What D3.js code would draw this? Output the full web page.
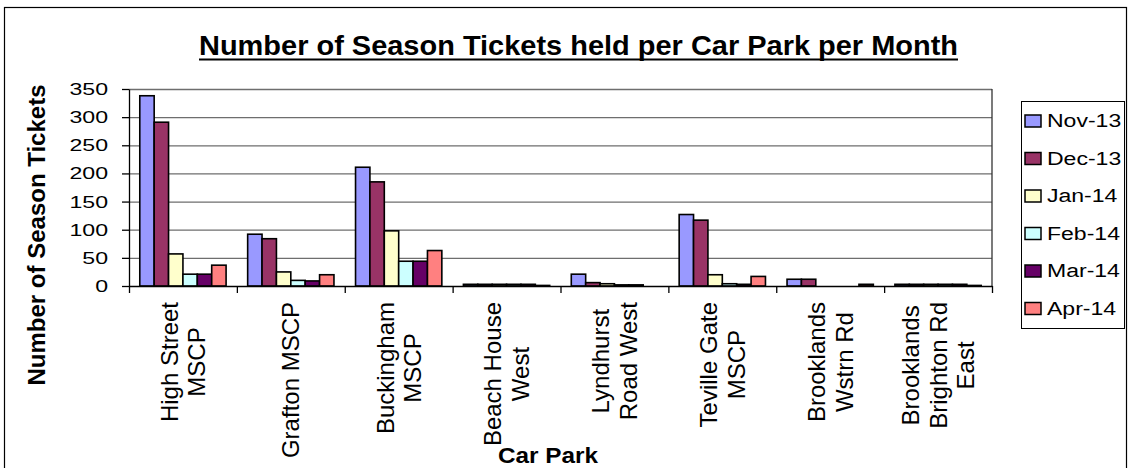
<!DOCTYPE html>
<html>
<head>
<meta charset="utf-8">
<script src="https://cdn.jsdelivr.net/npm/d3@7"></script>
<style>
  body { margin: 0; background: #fff; }
  text { font-family: "Liberation Sans", Arial, sans-serif; }
</style>
</head>
<body>
<div id="chart"></div>
<script>
// car parks, one array of label lines each
var carParks = [
  ["High Street", "MSCP"],
  ["Grafton MSCP"],
  ["Buckingham", "MSCP"],
  ["Beach House", "West"],
  ["Lyndhurst", "Road West"],
  ["Teville Gate", "MSCP"],
  ["Brooklands", "Wstrn Rd"],
  ["Brooklands", "Brighton Rd", "East"]
];
var months = ["Nov-13", "Dec-13", "Jan-14", "Feb-14", "Mar-14", "Apr-14"];
var colors = ["#9999FF", "#993366", "#FFFFCC", "#CCFFFF", "#660066", "#FF8080"];

// tickets per car park, one array per month
var nov13 = [338, 92, 211, 3, 21, 127, 12, 3];
var dec13 = [291, 84, 185, 3, 6, 117, 12, 3];
var jan14 = [57, 25, 98, 3, 4, 20, 0, 3];
var feb14 = [21, 10, 44, 3, 2, 4, 0, 3];
var mar14 = [21, 9, 44, 3, 2, 3, 0, 3];
var apr14 = [37, 20, 63, 1, 0, 17, 3, 1];
var seriesValues = [nov13, dec13, jan14, feb14, mar14, apr14];

var yTicks = [0, 50, 100, 150, 200, 250, 300, 350];

var W = 1130, H = 468;
var plot = {left: 129, right: 992, top: 89, bottom: 286};

var svg = d3.select("#chart").append("svg")
    .attr("width", W).attr("height", H);

// outer frame
svg.append("rect")
    .attr("x", 4.5).attr("y", 7.5)
    .attr("width", 1122).attr("height", 470)
    .attr("fill", "#fff").attr("stroke", "#000").attr("stroke-width", 1.2);

var catIdx = d3.range(carParks.length);
var x0 = d3.scaleBand().domain(catIdx).range([plot.left, plot.right]);
var bw = x0.bandwidth();
var gap = bw * 1.5 / 7.5;
var x1 = d3.scaleBand().domain(months).range([gap / 2, bw - gap / 2]);
var y = d3.scaleLinear().domain([0, 350]).range([plot.bottom, plot.top]);

// gridlines
var grid = svg.append("g")
    .attr("transform", "translate(" + plot.left + ",0)")
    .call(d3.axisLeft(y).tickValues(yTicks.slice(1)).tickSize(-(plot.right - plot.left)).tickFormat(""));
grid.select(".domain").remove();
grid.selectAll("line").attr("stroke", "#6e6e6e").attr("stroke-width", 1.3);

// right border of plot area
svg.append("line")
    .attr("x1", plot.right).attr("x2", plot.right)
    .attr("y1", plot.top).attr("y2", plot.bottom)
    .attr("stroke", "#333").attr("stroke-width", 1.3);

// bars
var groups = svg.selectAll("g.cat")
    .data(catIdx)
    .enter().append("g")
    .attr("class", "cat")
    .attr("transform", function (i) { return "translate(" + x0(i) + ",0)"; });

groups.selectAll("rect")
    .data(function (i) {
        return months.map(function (m, k) { return {m: m, k: k, v: seriesValues[k][i]}; });
    })
    .enter().append("rect")
    .filter(function (d) { return d.v > 0; })
    .attr("x", function (d) { return x1(d.m); })
    .attr("y", function (d) { return y(d.v); })
    .attr("width", x1.bandwidth())
    .attr("height", function (d) { return y(0) - y(d.v); })
    .attr("fill", function (d) { return colors[d.k]; })
    .attr("stroke", "#000")
    .attr("stroke-width", 1.6);

// y axis
var yAxis = svg.append("g")
    .attr("transform", "translate(" + plot.left + ",0)")
    .call(d3.axisLeft(y).tickValues(yTicks).tickSize(7).tickSizeOuter(0));
yAxis.select(".domain").attr("stroke", "#000").attr("stroke-width", 1.3);
yAxis.selectAll("line").attr("stroke", "#000").attr("stroke-width", 1.3);
yAxis.selectAll("text")
    .attr("font-size", 17)
    .attr("fill", "#000")
    .attr("x", -21 / 1.36)
    .attr("transform", "scale(1.36,1)");

// x axis, ticks between car parks
var xi = d3.scaleLinear().domain([0, carParks.length]).range([plot.left, plot.right]);
var xAxis = svg.append("g")
    .attr("transform", "translate(0," + plot.bottom + ")")
    .call(d3.axisBottom(xi).ticks(carParks.length).tickSize(7).tickSizeOuter(0).tickFormat(""));
xAxis.select(".domain").attr("stroke", "#000").attr("stroke-width", 1.3);
xAxis.selectAll("line").attr("stroke", "#000").attr("stroke-width", 1.3);

// rotated car park labels
var labelTop = 302, lineGap = 27.5, fs = 24;
carParks.forEach(function (lines, i) {
    var c = x0(i) + bw / 2;
    var g = svg.append("g");
    var texts = lines.map(function (t, j) {
        var off = (j - (lines.length - 1) / 2) * lineGap + fs * 0.36;
        return g.append("text")
            .attr("font-size", fs)
            .attr("text-anchor", "middle")
            .attr("transform", "translate(" + (c + off) + ",0) rotate(-90)")
            .text(t);
    });
    var maxLen = d3.max(texts, function (t) { return t.node().getComputedTextLength(); });
    texts.forEach(function (t) { t.attr("x", -(labelTop + maxLen / 2)); });
});

// title
svg.append("text")
    .attr("x", 199).attr("y", 55)
    .attr("font-size", 27).attr("font-weight", "bold")
    .attr("textLength", 759).attr("lengthAdjust", "spacingAndGlyphs")
    .text("Number of Season Tickets held per Car Park per Month");
svg.append("line")
    .attr("x1", 199).attr("x2", 958).attr("y1", 59.5).attr("y2", 59.5)
    .attr("stroke", "#000").attr("stroke-width", 2);

// axis titles
svg.append("text")
    .attr("transform", "translate(45,235) rotate(-90)")
    .attr("text-anchor", "middle")
    .attr("font-size", 24).attr("font-weight", "bold")
    .text("Number of Season Tickets");
svg.append("text")
    .attr("x", 498).attr("y", 463)
    .attr("font-size", 22).attr("font-weight", "bold")
    .attr("textLength", 100).attr("lengthAdjust", "spacingAndGlyphs")
    .text("Car Park");

// legend
var legend = svg.append("g");
legend.append("rect")
    .attr("x", 1021.5).attr("y", 101.5).attr("width", 103).attr("height", 227)
    .attr("fill", "#fff").attr("stroke", "#000").attr("stroke-width", 1);
var items = legend.selectAll("g.item")
    .data(months)
    .enter().append("g")
    .attr("class", "item")
    .attr("transform", function (d, i) { return "translate(0," + (121 + i * 37.5) + ")"; });
items.append("rect")
    .attr("x", 1025).attr("y", -6).attr("width", 16).attr("height", 12)
    .attr("fill", function (d, i) { return colors[i]; })
    .attr("stroke", "#000").attr("stroke-width", 1.5);
items.append("text")
    .attr("x", 1047 / 1.28).attr("dy", "0.36em")
    .attr("font-size", 18)
    .attr("transform", "scale(1.28,1)")
    .text(function (d) { return d; });
</script>
</body>
</html>
